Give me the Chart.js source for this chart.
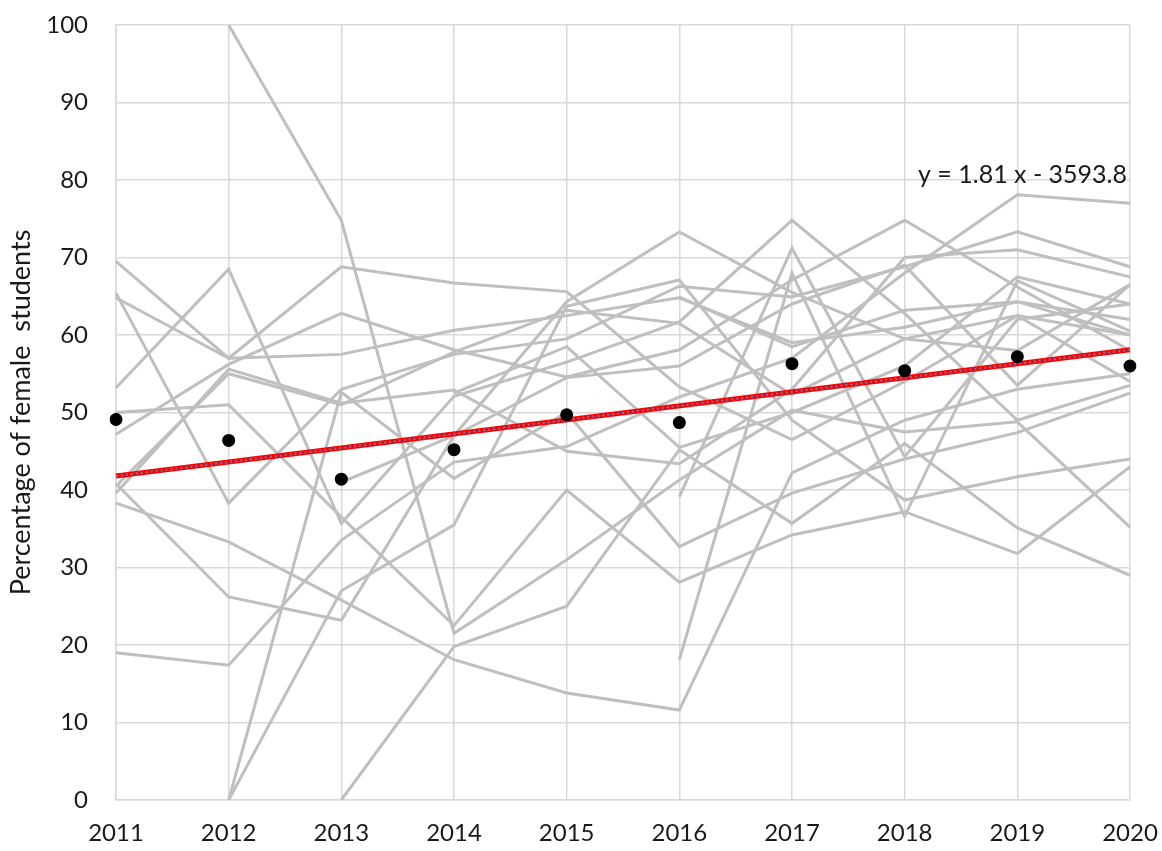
<!DOCTYPE html>
<html>
<head>
<meta charset="utf-8">
<script src="https://cdn.jsdelivr.net/npm/chart.js@4.4.0/dist/chart.umd.min.js"></script>
<style>
  html, body { margin: 0; padding: 0; background: #ffffff; }
  #wrap { width: 1162px; height: 851px; position: relative; }
</style>
</head>
<body>
<div id="wrap"><canvas id="c" width="1162" height="851"></canvas></div>
<script>
// ---- data ----
const years = ['2011','2012','2013','2014','2015','2016','2017','2018','2019','2020'];

const s01 = [69.5, 57.0, 57.5, 60.6, 62.5, 64.8, 59.0, 61.0, 64.3, 60.0];
const s02 = [65.4, 38.3, 53.0, 57.5, 59.5, 66.3, 64.9, 68.8, 73.3, 68.8];
const s03 = [64.8, 57.0, 68.8, 66.7, 65.6, 53.3, 46.5, 54.0, 62.5, 54.0];
const s04 = [53.2, 68.5, 35.7, 52.1, 56.5, 61.7, 74.8, 62.8, 49.0, 53.5];
const s05 = [50.0, 51.0, 36.5, 22.5, 40.0, 28.1, 34.2, 37.2, 31.8, 43.0];
const s06 = [47.2, 56.2, 62.8, 58.1, 54.6, 58.1, 67.1, 74.8, 66.2, 58.0];
const s07 = [40.8, 26.2, 23.2, 47.0, 64.3, 73.3, 65.5, 59.5, 58.0, 66.5];
const s08 = [39.6, 55.6, 51.2, 52.9, 45.0, 43.4, 53.0, 70.0, 71.0, 67.5];
const s09 = [38.3, 33.3, 25.8, 18.1, 13.8, 11.6, 42.2, 49.0, 53.0, 55.0];
const s10 = [19.0, 17.4, 33.5, 43.6, 45.6, 52.0, 57.0, 68.0, 78.1, 77.0];
const s11 = [null, 100, 74.8, 21.5, 31.0, 41.3, 50.3, 47.5, 48.8, 35.2];
const s12 = [null, 0, 52.6, 41.5, 50.0, 32.7, 39.6, 44.0, 47.4, 52.5];
const s13 = [null, 0, 27.0, 35.5, 63.7, 67.1, 49.0, 38.7, 41.7, 44.0];
const s14 = [null, null, 0, 19.8, 25.0, 45.2, 35.7, 46.0, 35.1, 29.0];
const s15 = [null, null, null, null, null, 39.1, 71.2, 44.3, 62.0, 64.0];
const s16 = [null, null, null, null, null, 18.1, 68.0, 36.6, 67.0, 60.5];
const s17 = [null, null, null, null, null, 64.9, 58.5, 63.2, 64.3, 62.0];
const s18 = [40.5, 55.0, 51.0, 57.8, 63.2, 61.5, 52.3, 59.5, 62.5, 60.0];
const s19 = [null, null, 41.0, 47.0, 54.5, 56.0, 64.0, 69.0, 53.5, 66.5];
const s20 = [null, null, null, 52.5, 58.5, 45.5, 50.0, 56.0, 67.5, 64.0];

const meanPct = [49.1, 46.4, 41.4, 45.2, 49.7, 48.7, 56.3, 55.4, 57.2, 56.0];
const trendPct = [41.8, null, null, null, null, null, null, null, null, 58.1];

const equationText = 'y = 1.81 x - 3593.8';
const yTitle = 'Percentage of female  students';

const grayGroups = [s01, s02, s03, s04, s05, s06, s07, s08, s09, s10,
                    s11, s12, s13, s14, s15, s16, s17, s18, s19, s20];

// ---- chart ----
const FONT = 'Lato, "Liberation Sans", sans-serif';
const TXT = '#1a1a1a';

const datasets = [
  {
    data: meanPct, showLine: false, pointRadius: 6.5, pointHoverRadius: 6.5,
    pointBackgroundColor: '#000', pointBorderColor: '#000', borderWidth: 0
  },
  {
    data: trendPct, spanGaps: true, borderColor: '#5a7fc0', borderWidth: 2,
    borderDash: [2, 3], pointRadius: 0, fill: false
  },
  {
    data: trendPct, spanGaps: true, borderColor: '#ff0000', borderWidth: 5,
    pointRadius: 0, fill: false
  }
];
grayGroups.forEach(arr => {
  datasets.push({
    data: arr, spanGaps: false, borderColor: '#bfbfbf', borderWidth: 3,
    pointRadius: 0, fill: false, tension: 0, borderJoinStyle: 'miter'
  });
});

const equationPlugin = {
  id: 'equation',
  afterDatasetsDraw(chart) {
    const {ctx, scales} = chart;
    const x = scales.x.getPixelForValue(9) - 3;
    const y = scales.y.getPixelForValue(80.6);
    ctx.save();
    ctx.font = '25px ' + FONT;
    ctx.fillStyle = TXT;
    ctx.textAlign = 'right';
    ctx.textBaseline = 'middle';
    ctx.fillText(equationText, x, y);
    ctx.restore();
  }
};

new Chart(document.getElementById('c'), {
  type: 'line',
  data: { labels: years, datasets },
  options: {
    responsive: false,
    animation: false,
    layout: { padding: { top: 25, right: 32, left: 0, bottom: 0 } },
    plugins: { legend: { display: false }, tooltip: { enabled: false } },
    scales: {
      x: {
        offset: false,
        grid: { color: '#d9d9d9', lineWidth: 1.5, drawTicks: false },
        border: { color: '#d9d9d9', width: 1.5 },
        ticks: { color: TXT, font: { family: FONT, size: 24 }, padding: 19, maxRotation: 0 },
        afterFit: (axis) => { axis.height = 51; axis.paddingLeft = 0; axis.paddingRight = 0; }
      },
      y: {
        min: 0, max: 100,
        grid: { color: '#d9d9d9', lineWidth: 1.5, drawTicks: false },
        border: { color: '#d9d9d9', width: 1.5 },
        ticks: { stepSize: 10, color: TXT, font: { family: FONT, size: 24 }, padding: 28 },
        title: { display: true, text: yTitle, color: TXT, font: { family: FONT, size: 27 }, padding: { top: 5, bottom: 0 } },
        afterFit: (axis) => { axis.width = 116; axis.paddingTop = 0; axis.paddingBottom = 0; }
      }
    }
  },
  plugins: [equationPlugin]
});
</script>
</body>
</html>
